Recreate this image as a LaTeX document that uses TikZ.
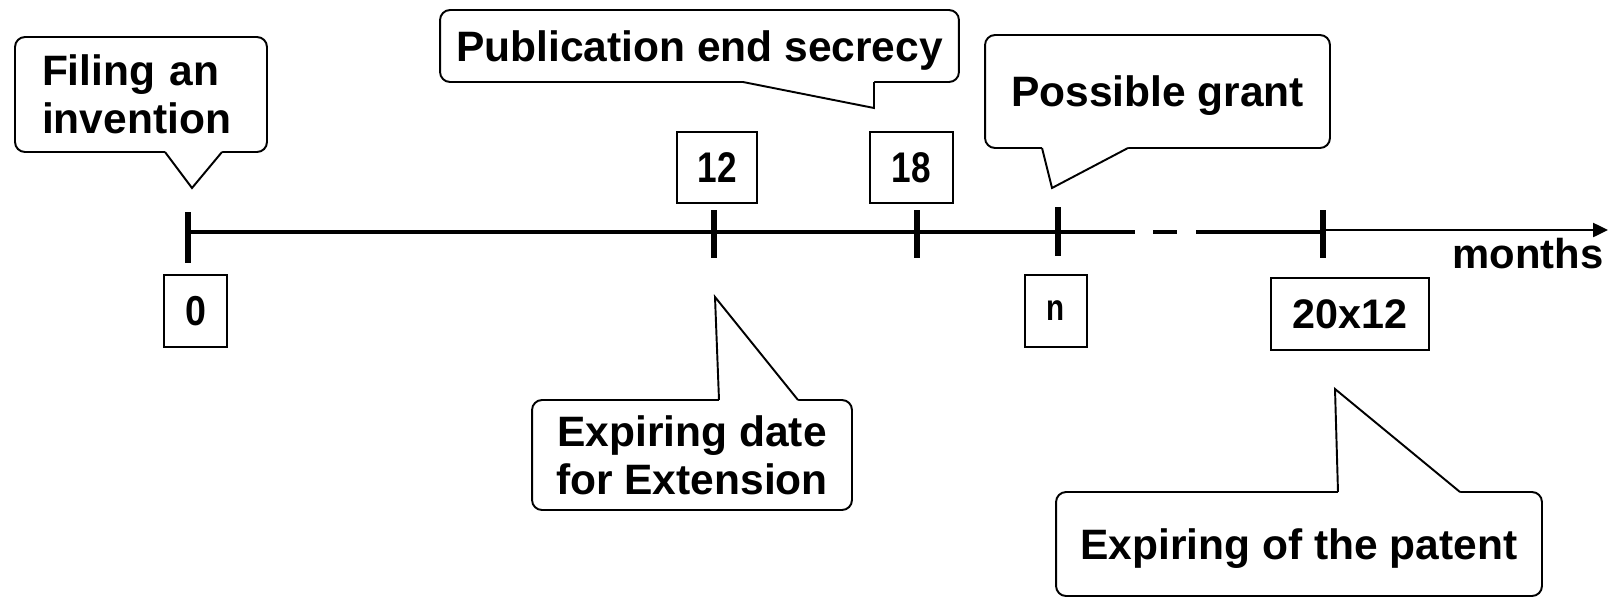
\documentclass[tikz,border=0pt]{standalone}
\usepackage{fontspec}
\setmainfont{Liberation Sans}
\usetikzlibrary{arrows.meta}

\begin{document}
\begin{tikzpicture}[x=0.02cm, y=-0.02cm,
    bubble/.style={draw, fill=white, line width=1.1pt, rounded corners=0.2cm,
        align=center, inner sep=0pt, font=\fontsize{24.2}{27.2}\selectfont\bfseries},
    numbox/.style={draw, fill=white, line width=1.1pt, inner sep=0pt,
        font=\fontsize{23.5}{28}\selectfont\bfseries},
    tailline/.style={line width=1.1pt, line join=miter},
    axisline/.style={line width=2.8pt},
    tickline/.style={line width=3.4pt}]

    % Frame
    \useasboundingbox (0,0) rectangle (1616,599);

    % === Time axis ===
    \coordinate (t0) at (188,232);
    \coordinate (t240) at (1323,232);
    \coordinate (arrowstart) at (1323,230);
    \coordinate (arrowend) at (1608,230);
    \draw[axisline] (t0) -- (1135,232);
    \draw[axisline] (1153,232) -- (1177,232);
    \draw[axisline] (1196,232) -- (t240);
    \draw[line width=1.4pt, -{Triangle[length=0.3cm, width=0.28cm]}] (arrowstart) -- (arrowend);

    % Ticks
    \foreach \x/\a/\b in {188/212/263, 714/210/258, 917/210/258, 1058/207/256, 1323/210/258}
        \draw[tickline] (\x,\a) -- (\x,\b);

    \node[anchor=base, font=\fontsize{23.8}{27.2}\selectfont\bfseries] (months) at (1528,268) {months};

    % === Month labels ===
    \node[numbox, minimum width=1.26cm, minimum height=1.44cm] (lab0) at (195.5,311)
        {\fontsize{23.8}{28}\selectfont\scalebox{0.9}[1]{0}};
    \node[numbox, minimum width=1.6cm, minimum height=1.42cm] (lab12) at (717,167.5)
        {\fontsize{24.4}{28}\selectfont\scalebox{0.82}[1]{12}};
    \node[numbox, minimum width=1.66cm, minimum height=1.42cm] (lab18) at (911.5,167.5)
        {\fontsize{24.4}{28}\selectfont\scalebox{0.82}[1]{18}};
    \node[numbox, minimum width=1.24cm, minimum height=1.44cm] (labn) at (1056,311)
        {\fontsize{21}{26}\selectfont\scalebox{0.8}[1]{n}};
    \node[numbox, minimum width=3.16cm, minimum height=1.44cm] (lab240) at (1350,314) {20x12};

    % === Callouts ===
    % Filing
    \node[bubble, align=left, text width=3.96cm, inner xsep=0.54cm, minimum height=2.3cm]
        (filing) at (141,94.5) {Filing an\\invention};
    \coordinate (filingtip) at (192,188);
    \fill[white] (165,149) -- (165,152) -- (filingtip) -- (222,152) -- (222,149) -- cycle;
    \draw[tailline] (165,152) -- (filingtip) -- (222,152);

    % Publication
    \node[bubble, text depth=0pt, minimum width=10.38cm, minimum height=1.44cm]
        (publication) at (699.5,46) {Publication end secrecy};
    \coordinate (publicationtip) at (874,108);
    \fill[white] (743,79) -- (743,82) -- (publicationtip) -- (874,82) -- (874,79) -- cycle;
    \draw[tailline] (743,82) -- (publicationtip) -- (874,82);

    % Grant
    \node[bubble, text depth=0pt, minimum width=6.9cm, minimum height=2.26cm]
        (grant) at (1157.5,91.5) {Possible grant};
    \coordinate (granttip) at (1052,188);
    \fill[white] (1042,145) -- (1042,148) -- (granttip) -- (1128,148) -- (1128,145) -- cycle;
    \draw[tailline] (1042,148) -- (granttip) -- (1128,148);

    % Extension
    \node[bubble, minimum width=6.4cm, minimum height=2.2cm]
        (extension) at (692,455) {Expiring date\\for Extension};
    \coordinate (extensiontip) at (715,297);
    \fill[white] (719,403) -- (719,400) -- (extensiontip) -- (798,400) -- (798,403) -- cycle;
    \draw[tailline] (719,400) -- (extensiontip) -- (798,400);

    % Patent
    \node[bubble, text depth=0pt, minimum width=9.72cm, minimum height=2.08cm]
        (patent) at (1299,544) {Expiring of the patent};
    \coordinate (patenttip) at (1335,389);
    \fill[white] (1338,495) -- (1338,492) -- (patenttip) -- (1460,492) -- (1460,495) -- cycle;
    \draw[tailline] (1338,492) -- (patenttip) -- (1460,492);
\end{tikzpicture}
\end{document}
